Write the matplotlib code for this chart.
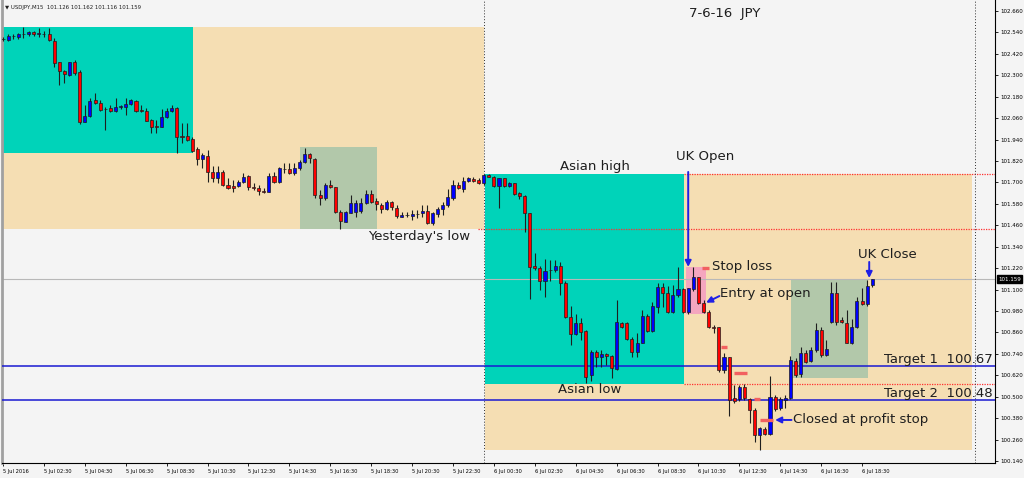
import matplotlib.pyplot as plt
from matplotlib.patches import Rectangle

# USDJPY M15, bar 0 = 5 Jul 2016 00:30 (15 minute bars)
opens = [
    102.504, 102.498, 102.520, 102.516, 102.532, 102.530, 102.544, 102.534, 102.534, 102.530,
    102.494, 102.373, 102.324, 102.302, 102.373, 102.317, 102.037, 102.072, 102.162, 102.147,
    102.112, 102.115, 102.102, 102.124, 102.124, 102.140, 102.158, 102.106, 102.100, 102.050,
    102.014, 102.009, 102.065, 102.102, 102.115, 101.960, 101.960, 101.942, 101.886, 101.830,
    101.848, 101.761, 101.724, 101.761, 101.686, 101.680, 101.680, 101.704, 101.736, 101.677,
    101.671, 101.652, 101.649, 101.736, 101.704, 101.774, 101.774, 101.755, 101.780, 101.817,
    101.858, 101.830, 101.630, 101.611, 101.686, 101.673, 101.536, 101.480, 101.531, 101.536,
    101.540, 101.583, 101.634, 101.596, 101.574, 101.550, 101.592, 101.556, 101.509, 101.518,
    101.512, 101.522, 101.527, 101.540, 101.475, 101.524, 101.550, 101.574, 101.611, 101.686,
    101.662, 101.710, 101.720, 101.714, 101.695, 101.742, 101.732, 101.682, 101.724, 101.680,
    101.695, 101.639, 101.626, 101.527, 101.232, 101.219, 101.150, 101.210, 101.210, 101.232,
    101.136, 100.949, 100.850, 100.912, 100.868, 100.622, 100.749, 100.725, 100.738, 100.728,
    100.654, 100.915, 100.912, 100.824, 100.752, 100.803, 100.954, 100.868, 101.004, 101.116,
    101.079, 100.977, 101.070, 101.102, 100.977, 101.102, 101.169, 101.024, 100.977, 100.893,
    100.889, 100.650, 100.721, 100.493, 100.486, 100.556, 100.486, 100.426, 100.286, 100.320,
    100.292, 100.497, 100.435, 100.482, 100.492, 100.702, 100.628, 100.744, 100.702, 100.762,
    100.874, 100.734, 100.920, 101.079, 100.930, 100.915, 100.803, 100.889, 101.038, 101.020,
    101.126,
]
highs = [
    102.515, 102.532, 102.532, 102.537, 102.570, 102.548, 102.548, 102.565, 102.548, 102.565,
    102.508, 102.377, 102.330, 102.377, 102.386, 102.330, 102.134, 102.175, 102.200, 102.162,
    102.121, 102.134, 102.172, 102.134, 102.172, 102.168, 102.162, 102.134, 102.115, 102.056,
    102.050, 102.110, 102.115, 102.134, 102.121, 102.032, 102.035, 101.953, 101.900, 101.864,
    101.882, 101.792, 101.792, 101.770, 101.724, 101.714, 101.714, 101.752, 101.742, 101.695,
    101.686, 101.668, 101.752, 101.761, 101.789, 101.808, 101.808, 101.808, 101.826, 101.892,
    101.867, 101.836, 101.658, 101.695, 101.714, 101.677, 101.546, 101.542, 101.630, 101.602,
    101.611, 101.658, 101.658, 101.611, 101.587, 101.602, 101.598, 101.574, 101.536, 101.536,
    101.546, 101.546, 101.574, 101.574, 101.536, 101.565, 101.592, 101.662, 101.714, 101.704,
    101.729, 101.733, 101.729, 101.724, 101.748, 101.746, 101.736, 101.725, 101.725, 101.701,
    101.699, 101.649, 101.630, 101.527, 101.304, 101.232, 101.270, 101.266, 101.266, 101.256,
    101.150, 101.008, 100.964, 100.940, 100.874, 100.762, 100.762, 100.762, 100.747, 100.734,
    101.042, 100.921, 100.917, 100.836, 100.856, 100.986, 100.964, 101.033, 101.139, 101.135,
    101.120, 101.126, 101.229, 101.108, 101.111, 101.227, 101.173, 101.042, 100.986, 100.902,
    100.893, 100.744, 100.725, 100.566, 100.566, 100.572, 100.492, 100.435, 100.333, 100.329,
    100.616, 100.510, 100.500, 100.510, 100.728, 100.716, 100.777, 100.762, 100.780, 100.911,
    100.889, 100.818, 101.145, 101.145, 100.948, 100.986, 100.934, 101.061, 101.107, 101.154,
    101.162,
]
lows = [
    102.492, 102.492, 102.504, 102.504, 102.509, 102.520, 102.520, 102.515, 102.515, 102.492,
    102.349, 102.246, 102.256, 102.298, 102.302, 102.028, 102.036, 102.069, 102.140, 102.102,
    101.994, 102.097, 102.097, 102.110, 102.078, 102.134, 102.097, 102.097, 102.044, 101.976,
    101.976, 102.008, 102.060, 102.097, 101.867, 101.920, 101.934, 101.872, 101.798, 101.781,
    101.705, 101.705, 101.695, 101.682, 101.662, 101.649, 101.677, 101.695, 101.658, 101.658,
    101.630, 101.639, 101.647, 101.695, 101.695, 101.752, 101.746, 101.742, 101.770, 101.811,
    101.808, 101.611, 101.574, 101.602, 101.668, 101.527, 101.440, 101.478, 101.527, 101.505,
    101.527, 101.580, 101.583, 101.546, 101.527, 101.546, 101.546, 101.500, 101.505, 101.505,
    101.490, 101.500, 101.505, 101.468, 101.462, 101.505, 101.518, 101.565, 101.602, 101.662,
    101.649, 101.705, 101.705, 101.692, 101.686, 101.729, 101.677, 101.557, 101.677, 101.673,
    101.630, 101.606, 101.425, 101.046, 101.210, 101.098, 101.057, 101.150, 101.201, 101.070,
    100.940, 100.790, 100.846, 100.818, 100.575, 100.590, 100.669, 100.669, 100.678, 100.604,
    100.650, 100.884, 100.818, 100.725, 100.725, 100.800, 100.864, 100.864, 100.968, 101.004,
    100.968, 100.968, 101.060, 100.968, 100.965, 101.094, 101.020, 100.971, 100.884, 100.859,
    100.640, 100.632, 100.392, 100.464, 100.478, 100.482, 100.352, 100.249, 100.202, 100.286,
    100.286, 100.422, 100.426, 100.435, 100.486, 100.613, 100.609, 100.691, 100.697, 100.753,
    100.721, 100.728, 100.913, 100.902, 100.911, 100.800, 100.796, 100.884, 101.014, 101.008,
    101.116,
]
closes = [
    102.501, 102.520, 102.518, 102.530, 102.534, 102.544, 102.532, 102.536, 102.532, 102.498,
    102.371, 102.323, 102.306, 102.373, 102.312, 102.041, 102.072, 102.156, 102.144, 102.106,
    102.109, 102.102, 102.121, 102.126, 102.138, 102.160, 102.102, 102.100, 102.046, 102.012,
    102.012, 102.065, 102.102, 102.117, 101.953, 101.953, 101.938, 101.878, 101.830, 101.852,
    101.761, 101.724, 101.761, 101.686, 101.668, 101.668, 101.704, 101.732, 101.677, 101.668,
    101.652, 101.647, 101.736, 101.701, 101.780, 101.773, 101.755, 101.780, 101.817, 101.858,
    101.836, 101.630, 101.615, 101.686, 101.673, 101.536, 101.486, 101.536, 101.583, 101.587,
    101.587, 101.634, 101.592, 101.578, 101.550, 101.592, 101.561, 101.512, 101.518, 101.517,
    101.524, 101.521, 101.540, 101.475, 101.527, 101.550, 101.574, 101.620, 101.686, 101.668,
    101.710, 101.724, 101.710, 101.695, 101.742, 101.732, 101.682, 101.724, 101.680, 101.695,
    101.636, 101.624, 101.527, 101.229, 101.219, 101.150, 101.206, 101.208, 101.232, 101.136,
    100.949, 100.850, 100.912, 100.864, 100.612, 100.752, 100.725, 100.738, 100.728, 100.660,
    100.917, 100.893, 100.824, 100.752, 100.803, 100.954, 100.868, 101.008, 101.116, 101.079,
    100.977, 101.070, 101.102, 100.977, 101.108, 101.173, 101.024, 100.977, 100.889, 100.887,
    100.650, 100.721, 100.482, 100.478, 100.556, 100.492, 100.426, 100.286, 100.324, 100.292,
    100.500, 100.430, 100.486, 100.492, 100.706, 100.622, 100.744, 100.697, 100.762, 100.874,
    100.734, 100.766, 101.079, 100.920, 100.920, 100.803, 100.889, 101.038, 101.020, 101.120,
    101.159,
]

time_labels = [
    "5 Jul 2016", "5 Jul 02:30", "5 Jul 04:30", "5 Jul 06:30", "5 Jul 08:30", "5 Jul 10:30",
    "5 Jul 12:30", "5 Jul 14:30", "5 Jul 16:30", "5 Jul 18:30", "5 Jul 20:30", "5 Jul 22:30",
    "6 Jul 00:30", "6 Jul 02:30", "6 Jul 04:30", "6 Jul 06:30", "6 Jul 08:30", "6 Jul 10:30",
    "6 Jul 12:30", "6 Jul 14:30", "6 Jul 16:30", "6 Jul 18:30",
]
time_ticks = [0, 8, 16, 24, 32, 40, 48, 56, 64, 72, 80, 88,
              96, 104, 112, 120, 128, 136, 144, 152, 160, 168]
price_ticks = [100.140, 100.260, 100.380, 100.500, 100.620, 100.740, 100.860, 100.980,
               101.100, 101.220, 101.340, 101.460, 101.580, 101.700, 101.820, 101.940,
               102.060, 102.180, 102.300, 102.420, 102.540, 102.660]

last_price = 101.159
target_1 = 100.67
target_2 = 100.48
yesterday_low = 101.440
asian_high = 101.748
asian_low = 100.572

# session boxes: (first bar, last bar, low, high)
yday_range = (-2, 94.1, 101.440, 102.570)
yday_asia = (-2, 37.2, 101.865, 102.570)
yday_uk = (58.1, 73.1, 101.440, 101.899)
today_range = (94.3, 189.5, 100.202, 101.748)
today_asia = (94.3, 133.2, 100.572, 101.748)
today_uk = (154.1, 169.2, 100.605, 101.160)
entry_zone = (133.6, 137.5, 100.964, 101.227)

# trailing stop marks: (bar from, bar to, price)
stops = [(136.7, 138.1, 101.221), (140.4, 141.6, 100.779), (143.0, 145.5, 100.633),
         (146.9, 148.1, 100.490), (148.1, 150.6, 100.370)]

BG = '#f4f4f4'
fig = plt.figure(figsize=(10.24, 4.78), dpi=100)
fig.patch.set_facecolor(BG)
ax = fig.add_axes([2 / 1024, 15 / 478, 993 / 1024, 463 / 478])
ax.set_facecolor(BG)
ax.set_xlim(-0.2, 194.0)
ax.set_ylim(100.129, 102.722)


def box(r, color, z=1):
    x0, x1, lo, hi = r
    ax.add_patch(Rectangle((x0, lo), x1 - x0, hi - lo, facecolor=color,
                           edgecolor='none', zorder=z))


box(yday_range, '#f5deb3')
box(today_range, '#f5deb3')
box(yday_asia, '#00d3b9', 1.1)
box(today_asia, '#00d3b9', 1.1)
box(yday_uk, '#b2c8aa', 1.1)
box(today_uk, '#b2c8aa', 1.1)
box(entry_zone, '#f4a6bf', 1.1)

# lines
ax.axhline(last_price, color='#b8b8b8', lw=0.8, zorder=2)
ax.axhline(target_1, color='#1a1ad2', lw=1.1, zorder=3)
ax.axhline(target_2, color='#1a1ad2', lw=1.1, zorder=3)
red_dot = dict(colors='#ff3030', linestyles=(0, (1, 1)), lw=0.9, zorder=2)
ax.hlines(asian_high, 133.2, 194, **red_dot)
ax.hlines(yesterday_low, 92.9, 194, **red_dot)
ax.hlines(asian_low, 133.2, 194, **red_dot)
ax.axvline(94.1, color='#303030', ls=(0, (1, 2)), lw=0.7, zorder=2)
ax.axvline(190.1, color='#303030', ls=(0, (1, 2)), lw=0.7, zorder=2)

# candles
for i, (o, h, l, c) in enumerate(zip(opens, highs, lows, closes)):
    ax.vlines(i, l, h, color='#1e1e1e', lw=0.8, zorder=4)
    col = '#0000ff' if c >= o else '#ff0000'
    ax.add_patch(Rectangle((i - 0.3, min(o, c)), 0.6, max(abs(c - o), 0.002),
                           facecolor=col, edgecolor='#1e1e1e', lw=0.5, zorder=5))

for x0, x1, p in stops:
    ax.hlines(p, x0, x1, colors='#f26060', lw=2.4, zorder=6)

# annotations
txt = dict(fontsize=9.5, color='#1e1e1e', zorder=8)
arrow = dict(arrowstyle='-|>', color='#1f1fe6', lw=1.4, mutation_scale=9,
             shrinkA=0, shrinkB=0)
ax.text(141.2, 102.649, '7-6-16  JPY', ha='center', va='center', **txt)
ax.text(115.8, 101.792, 'Asian high', ha='center', va='center', **txt)
ax.text(114.8, 100.538, 'Asian low', ha='center', va='center', **txt)
ax.text(81.4, 101.395, "Yesterday's low", ha='center', va='center', **txt)
ax.text(137.3, 101.848, 'UK Open', ha='center', va='center', **txt)
ax.annotate('', xy=(134.0, 101.227), xytext=(134.0, 101.759), arrowprops=arrow, zorder=8)
ax.text(172.9, 101.294, 'UK Close', ha='center', va='center', **txt)
ax.annotate('', xy=(169.4, 101.165), xytext=(169.4, 101.255), arrowprops=arrow, zorder=8)
ax.text(138.6, 101.229, 'Stop loss', ha='left', va='center', **txt)
ax.text(140.2, 101.081, 'Entry at open', ha='left', va='center', **txt)
ax.annotate('', xy=(137.5, 101.027), xytext=(140.1, 101.064), arrowprops=arrow, zorder=8)
ax.text(154.4, 100.370, 'Closed at profit stop', ha='left', va='center', **txt)
ax.annotate('', xy=(151.0, 100.370), xytext=(154.2, 100.370), arrowprops=arrow, zorder=8)
ax.text(172.2, 100.706, 'Target 1  100.67', ha='left', va='center', clip_on=True, **txt)
ax.text(172.2, 100.521, 'Target 2  100.48', ha='left', va='center', clip_on=True, **txt)

# axes
ax.yaxis.tick_right()
ax.set_yticks(price_ticks)
ax.set_yticklabels([f'{p:.3f}' for p in price_ticks])
ax.tick_params(axis='y', labelsize=4.0, length=2.5, width=0.6, pad=1.5)
ax.set_xticks(time_ticks)
ax.set_xticklabels(time_labels, ha='left')
ax.tick_params(axis='x', labelsize=3.7, length=2.5, width=0.6, pad=1.8)
ax.spines['top'].set_visible(False)
ax.spines['left'].set_color('#a0a0a0')
ax.spines['left'].set_linewidth(2)
ax.spines['right'].set_linewidth(0.8)
ax.spines['bottom'].set_linewidth(0.8)

ax.text(1.003, last_price, f'{last_price:.3f}', transform=ax.get_yaxis_transform(),
        ha='left', va='center', fontsize=4.0, color='white', clip_on=False, zorder=10,
        bbox=dict(boxstyle='square,pad=0.25', fc='black', ec='black'))

fig.text(5 / 1024, 1 - 7 / 478, '\u25bc USDJPY,M15  101.126 101.162 101.116 101.159',
         fontsize=3.9, va='center', color='#1e1e1e')

fig.savefig('out.png', dpi=100, facecolor=BG)
